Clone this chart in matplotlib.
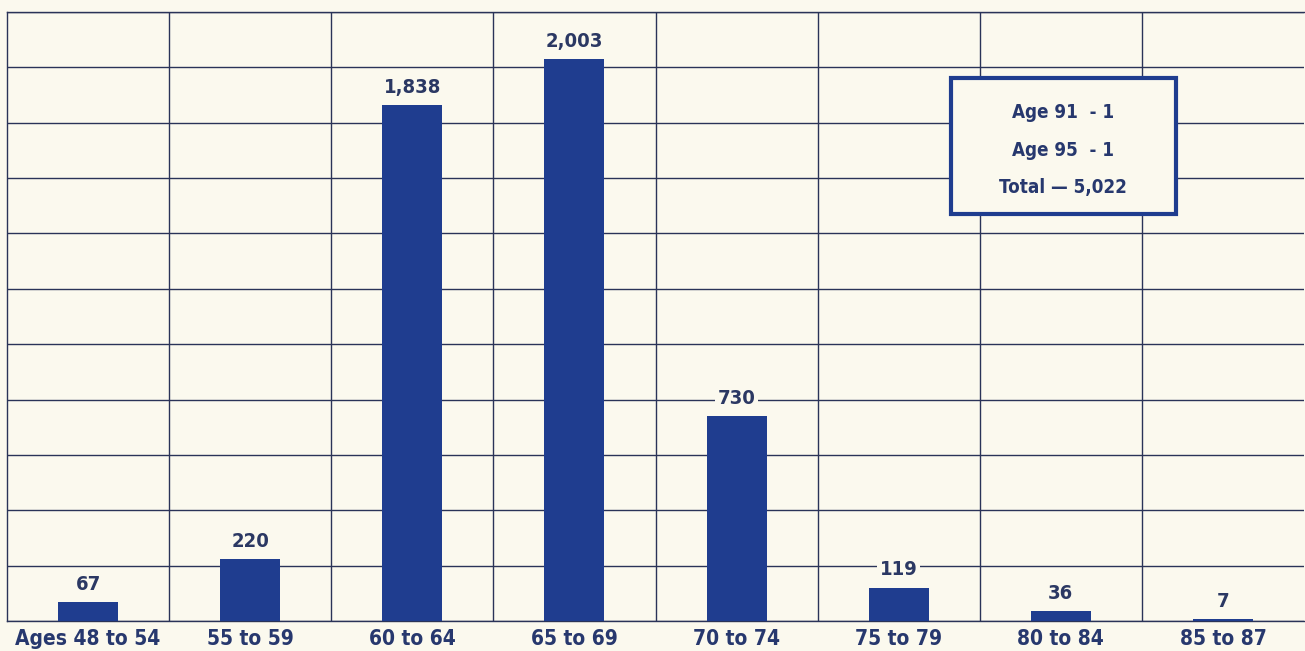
import numpy as np
import matplotlib.pyplot as plt
from matplotlib.patches import Rectangle
from matplotlib import font_manager

# data
age_groups = ["Ages 48 to 54", "55 to 59", "60 to 64", "65 to 69",
              "70 to 74", "75 to 79", "80 to 84", "85 to 87"]
counts = [67, 220, 1838, 2003, 730, 119, 36, 7]
note_lines = ["Age 91  - 1", "Age 95  - 1", "Total \u2014 5,022"]

# style
bg = "#fbf9ee"
bar_color = "#1f3d8f"
line_color = "#2a3358"
text_color = "#27386e"

# look for a condensed bold face
cond_path = None
for f in font_manager.fontManager.ttflist:
    if "condensed" in f.fname.lower() or "narrow" in f.fname.lower():
        if "bold" in f.fname.lower() and "oblique" not in f.fname.lower() \
                and "italic" not in f.fname.lower():
            cond_path = f.fname
            break
print(cond_path)
if cond_path:
    fp = font_manager.FontProperties(fname=cond_path)
else:
    fp = font_manager.FontProperties(family="DejaVu Sans", weight="bold")


def font(size):
    p = fp.copy()
    p.set_size(size)
    return p


y_max = 2170
n_rows = 11

fig = plt.figure(figsize=(13.05, 6.51), dpi=100, facecolor=bg)
ax = fig.add_axes([7 / 1305, 30 / 651, 1297 / 1305, 609 / 651])
ax.set_facecolor(bg)

x = np.arange(len(age_groups))
ax.bar(x, counts, width=0.37, color=bar_color, zorder=3)

ax.set_xlim(-0.5, len(age_groups) - 0.5)
ax.set_ylim(0, y_max)

# grid drawn at column boundaries and equal rows
ax.set_xticks(np.arange(0.5, len(age_groups) - 0.5, 1.0), minor=True)
ax.set_yticks(np.linspace(0, y_max, n_rows + 1))
ax.grid(which="minor", axis="x", color=line_color, linewidth=1.0, zorder=1)
ax.grid(which="major", axis="y", color=line_color, linewidth=1.0, zorder=1)
ax.tick_params(which="both", length=0)
ax.set_yticklabels([])

ax.set_xticks(x)
ax.set_xticklabels(age_groups, fontproperties=font(15), color=text_color)
ax.tick_params(axis="x", pad=6)

for side in ["left", "top", "bottom"]:
    ax.spines[side].set_color(line_color)
    ax.spines[side].set_linewidth(1.0)
ax.spines["right"].set_visible(False)

# value labels
for xi, v in zip(x, counts):
    ax.annotate(f"{v:,}", (xi, v), xytext=(0, 6), textcoords="offset points",
                ha="center", va="bottom", fontproperties=font(14.5),
                color="#2b3863", zorder=4,
                bbox=dict(boxstyle="square,pad=0.12", fc=bg, ec="none"))

# note box
box = Rectangle((951 / 1305, 1 - 214 / 651), 225 / 1305, 136 / 651,
                transform=fig.transFigure, facecolor=bg, edgecolor=bar_color,
                linewidth=3, zorder=5)
fig.patches.append(box)
for i, line in enumerate(note_lines):
    fig.text(1063 / 1305, 1 - (113 + 37 * i) / 651, line, ha="center",
             va="center", fontproperties=font(13.5),
             color=text_color, zorder=6)

fig.savefig("out.png", dpi=100, facecolor=bg)
